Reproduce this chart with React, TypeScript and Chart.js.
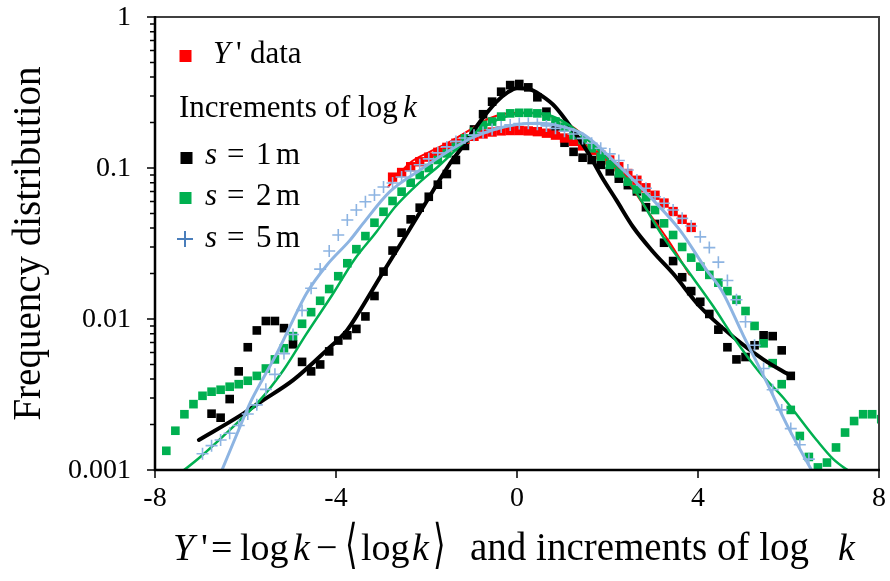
import React, { useEffect, useRef } from "react";
import { Chart, registerables } from "chart.js";

Chart.register(...registerables);

// Histogram bin centres shared by all point series
const X_BINS = [
  -7.75, -7.55, -7.35, -7.15, -6.95, -6.75, -6.55, -6.35, -6.15, -5.95,
  -5.75, -5.55, -5.35, -5.15, -4.95, -4.75, -4.55, -4.35, -4.15, -3.95,
  -3.75, -3.55, -3.35, -3.15, -2.95, -2.75, -2.55, -2.35, -2.15, -1.95,
  -1.75, -1.55, -1.35, -1.15, -0.95, -0.75, -0.55, -0.35, -0.15, 0.05,
  0.25, 0.45, 0.65, 0.85, 1.05, 1.25, 1.45, 1.65, 1.85, 2.05,
  2.25, 2.45, 2.65, 2.85, 3.05, 3.25, 3.45, 3.65, 3.85, 4.05,
  4.25, 4.45, 4.65, 4.85, 5.05, 5.25, 5.45, 5.65, 5.85, 6.05,
  6.25, 6.45, 6.65, 6.85, 7.05, 7.25, 7.45, 7.65, 7.85, 8.05,
];

// Y' data (red squares)
const RED_FIRST_BIN = 25;
const RED_Y = [
  0.087, 0.0934, 0.102, 0.11, 0.118, 0.127, 0.137, 0.146, 0.155, 0.162,
  0.168, 0.173, 0.176, 0.177, 0.177, 0.176, 0.174, 0.17, 0.165, 0.158,
  0.15, 0.14, 0.131, 0.122, 0.113, 0.102, 0.092, 0.083, 0.074, 0.066,
  0.0586, 0.0515, 0.0457, 0.0404,
];

// s = 1 m (black squares)
const BLACK_FIRST_BIN = 5;
const BLACK_Y = [
  0.00236, 0.00222, 0.00295, 0.0045, 0.0065, 0.0084, 0.0097, 0.0097, 0.0087, 0.0068,
  0.0052, 0.0045, 0.005, 0.0061, 0.0072, 0.0078, 0.0086, 0.0104, 0.0142, 0.0206,
  0.0284, 0.0373, 0.0457, 0.0546, 0.0645, 0.0775, 0.0912, 0.113, 0.14, 0.18,
  0.227, 0.275, 0.32, 0.354, 0.36, 0.342, 0.294, 0.236, 0.188, 0.147,
  0.128, 0.117, 0.113, 0.105, 0.095, 0.085, 0.077, 0.07, 0.055, 0.0426,
  0.032, 0.0242, 0.0189, 0.0153, 0.013, 0.0108, 0.0085, 0.0065, 0.0054, 0.0056,
  0.0067, 0.0078, 0.0077, 0.0062, 0.0042,
];

// s = 2 m (green squares)
const GREEN_FIRST_BIN = 0;
const GREEN_Y = [
  0.00134, 0.00182, 0.00234, 0.00273, 0.0031, 0.0033, 0.0034, 0.00356, 0.0037, 0.0039,
  0.0042, 0.0047, 0.0054, 0.0064, 0.0077, 0.0093, 0.0111, 0.0132, 0.0158, 0.0192,
  0.0234, 0.029, 0.0354, 0.0434, 0.0513, 0.0605, 0.0697, 0.0799, 0.0899, 0.1,
  0.113, 0.125, 0.138, 0.157, 0.174, 0.193, 0.203, 0.219, 0.23, 0.232,
  0.232, 0.23, 0.219, 0.203, 0.188, 0.165, 0.153, 0.135, 0.119, 0.105,
  0.0922, 0.0812, 0.0722, 0.064, 0.0527, 0.043, 0.036, 0.03, 0.0255, 0.0222,
  0.0196, 0.0174, 0.0153, 0.0134, 0.0113, 0.009, 0.0069, 0.0051, 0.0037, 0.0025,
  0.00168, 0.00122, 0.00104, 0.00112, 0.00141, 0.00177, 0.00211, 0.00234, 0.00234, 0.00217,
];

// s = 5 m (blue crosses)
const BLUE_FIRST_BIN = 4;
const BLUE_Y = [
  0.00128, 0.00145, 0.00158, 0.00175, 0.00197, 0.00235, 0.0027, 0.00342, 0.0043, 0.0059,
  0.0079, 0.0114, 0.016, 0.0214, 0.0282, 0.036, 0.0452, 0.0527, 0.0598, 0.0662,
  0.0749, 0.0796, 0.0872, 0.0955, 0.105, 0.115, 0.126, 0.138, 0.15, 0.158,
  0.165, 0.172, 0.18, 0.187, 0.193, 0.197, 0.198, 0.195, 0.19, 0.183,
  0.175, 0.168, 0.157, 0.146, 0.135, 0.124, 0.112, 0.097, 0.0833, 0.0734,
  0.0645, 0.0584, 0.0527, 0.0464, 0.0413, 0.035, 0.0297, 0.0238, 0.018, 0.0134,
  0.0096, 0.0067, 0.0047, 0.0034, 0.0025, 0.00188, 0.00147, 0.00118,
];

// Fitted curves
const RED_FIT_X = [-2.85, -2.37, -1.93, -1.49, -1.05, -0.63, -0.3, 0.1, 0.6, 1.0, 1.5, 2.0, 2.5, 2.87, 3.34, 3.81];
const RED_FIT_Y = [0.075, 0.108, 0.128, 0.149, 0.178, 0.212, 0.228, 0.232, 0.226, 0.205, 0.163, 0.116, 0.077, 0.0527, 0.0333, 0.0197];

const BLACK_FIT_X = [-7.03, -6.12, -5.68, -4.94, -4.21, -3.76, -3.5, -3.0, -2.5, -2.0, -1.5, -1.19, -0.97, -0.7, -0.45, -0.2, 0.0, 0.25, 0.55, 0.84, 1.21, 1.58, 1.87, 2.2, 2.57, 3.0, 3.45, 4.04, 4.78, 5.44, 6.05];
const BLACK_FIT_Y = [0.00158, 0.00229, 0.00281, 0.00395, 0.0062, 0.0084, 0.011, 0.0195, 0.034, 0.06, 0.105, 0.14, 0.175, 0.225, 0.275, 0.318, 0.338, 0.335, 0.3, 0.255, 0.183, 0.125, 0.0876, 0.061, 0.0405, 0.028, 0.02, 0.0121, 0.0076, 0.0054, 0.0042];

const GREEN_FIT_X = [-7.45, -7.0, -6.27, -5.68, -5.16, -4.65, -4.06, -3.6, -3.1, -2.7, -2.2, -1.7, -1.2, -0.7, -0.2, 0.2, 0.6, 1.0, 1.5, 2.0, 2.5, 3.23, 3.82, 4.34, 4.78, 5.37, 5.89, 6.62, 6.99, 7.4];
const GREEN_FIT_Y = [0.00095, 0.00122, 0.00194, 0.0029, 0.0046, 0.008, 0.0148, 0.0246, 0.038, 0.055, 0.078, 0.105, 0.145, 0.19, 0.222, 0.232, 0.228, 0.205, 0.16, 0.115, 0.079, 0.035, 0.02, 0.0121, 0.0076, 0.0044, 0.003, 0.00158, 0.00118, 0.00095];

const BLUE_FIT_X = [-6.55, -6.12, -5.9, -5.6, -5.31, -5.02, -4.65, -4.2, -3.69, -3.4, -2.81, -2.14, -1.5, -1.0, -0.5, 0.0, 0.5, 1.0, 1.5, 2.2, 2.94, 3.6, 4.19, 4.52, 5.0, 5.52, 6.0, 6.55];
const BLUE_FIT_Y = [0.00095, 0.00194, 0.00277, 0.0041, 0.0059, 0.0089, 0.0148, 0.0228, 0.0333, 0.043, 0.0697, 0.097, 0.13, 0.158, 0.18, 0.194, 0.198, 0.188, 0.165, 0.107, 0.0645, 0.0388, 0.0211, 0.0155, 0.0078, 0.0038, 0.0019, 0.00095];

// Axes
const X_MIN = -8;
const X_MAX = 8;
const Y_MIN = 0.001;
const Y_MAX = 1;
const X_TICKS = [-8, -4, 0, 4, 8];
const X_TICK_LABELS = ["-8", "-4", "0", "4", "8"];
const Y_TICKS = [0.001, 0.01, 0.1, 1];
const Y_TICK_LABELS = ["0.001", "0.01", "0.1", "1"];

const RED = "#ff0000";
const BLACK = "#000000";
const GREEN = "#00b050";
const LIGHT_BLUE = "#8db4e2";
const LEGEND_BLUE = "#4a7ebb";

const SERIF = '"Liberation Serif", "Times New Roman", "DejaVu Serif", serif';

function binPoints(first: number, ys: number[]) {
  return ys.map((y, i) => ({ x: X_BINS[first + i], y }));
}
function linePoints(xs: number[], ys: number[]) {
  return xs.map((x, i) => ({ x, y: ys[i] }));
}

function txt(ctx: CanvasRenderingContext2D, s: string, x: number, y: number, size: number, italic = false) {
  ctx.font = `${italic ? "italic " : ""}${size}px ${SERIF}`;
  ctx.fillText(s, x, y);
}

function tallBracket(ctx: CanvasRenderingContext2D, s: string, x: number, y: number, size: number) {
  ctx.save();
  ctx.translate(x, y);
  ctx.scale(0.85, 1.4);
  ctx.font = `${size}px "DejaVu Serif", ${SERIF}`;
  ctx.fillText(s, 0, 0);
  ctx.restore();
}

const decorPlugin = {
  id: "decor",
  afterDraw(chart: any) {
    const ctx: CanvasRenderingContext2D = chart.ctx;
    const { left, right, top, bottom } = chart.chartArea;
    const xs = chart.scales.x;
    const ys = chart.scales.y;
    ctx.save();

    // frame (top/right)
    ctx.strokeStyle = "#404040";
    ctx.lineWidth = 2;
    ctx.beginPath();
    ctx.moveTo(left, top);
    ctx.lineTo(right, top);
    ctx.lineTo(right, bottom);
    ctx.stroke();

    // axes
    ctx.strokeStyle = "#000";
    ctx.lineWidth = 2.5;
    ctx.beginPath();
    ctx.moveTo(left, top - 1);
    ctx.lineTo(left, bottom);
    ctx.lineTo(right + 1, bottom);
    ctx.stroke();

    // y ticks (major + minor)
    ctx.lineWidth = 1.5;
    ctx.beginPath();
    for (let d = 0; d < Y_TICKS.length; d++) {
      const v = Y_TICKS[d];
      const py = ys.getPixelForValue(v);
      ctx.moveTo(left - 8, py);
      ctx.lineTo(left, py);
      if (d < Y_TICKS.length - 1) {
        for (let m = 2; m <= 9; m++) {
          const pm = ys.getPixelForValue(v * m);
          ctx.moveTo(left - 5, pm);
          ctx.lineTo(left, pm);
        }
      }
    }
    // x ticks
    for (const t of X_TICKS) {
      const px = xs.getPixelForValue(t);
      ctx.moveTo(px, bottom);
      ctx.lineTo(px, bottom + 8);
    }
    ctx.stroke();

    // tick labels
    ctx.fillStyle = "#000";
    ctx.textAlign = "right";
    ctx.textBaseline = "middle";
    Y_TICKS.forEach((v, i) => {
      txt(ctx, Y_TICK_LABELS[i], 131, ys.getPixelForValue(v) + 1, 28);
    });
    ctx.textAlign = "center";
    ctx.textBaseline = "alphabetic";
    X_TICKS.forEach((v, i) => {
      txt(ctx, X_TICK_LABELS[i], xs.getPixelForValue(v), 506, 28);
    });

    // y title
    ctx.save();
    ctx.translate(40, (top + bottom) / 2);
    ctx.rotate(-Math.PI / 2);
    ctx.textAlign = "center";
    txt(ctx, "Frequency distribution", 0, 0, 39);
    ctx.restore();

    // x title
    ctx.textAlign = "left";
    const by = 560;
    const fs = 38;
    txt(ctx, "Y", 173, by, fs, true);
    txt(ctx, "'", 201, by, fs);
    txt(ctx, "=", 211, by, fs);
    txt(ctx, "log", 240, by, fs);
    txt(ctx, "k", 293, by, fs, true);
    txt(ctx, "\u2212", 316, by, fs);
    tallBracket(ctx, "\u27e8", 345, by + 2, fs);
    txt(ctx, "log", 361, by, fs);
    txt(ctx, "k", 412, by, fs, true);
    tallBracket(ctx, "\u27e9", 433, by + 2, fs);
    txt(ctx, "and increments of log", 470, by, 39);
    txt(ctx, "k", 838, by, fs, true);

    // legend
    const ls = 31;
    ctx.fillStyle = RED;
    ctx.fillRect(179.5, 50, 12, 12);
    ctx.fillStyle = "#000";
    txt(ctx, "Y", 213, 63, ls, true);
    txt(ctx, "'", 236, 63, ls);
    txt(ctx, "data", 250, 63, ls);

    txt(ctx, "Increments of log", 179, 117, ls);
    txt(ctx, "k", 403, 117, ls, true);

    const rows = [
      { y: 164, label: "1", mark: "black" },
      { y: 205, label: "2", mark: "green" },
      { y: 247, label: "5", mark: "blue" },
    ];
    for (const r of rows) {
      if (r.mark === "black") {
        ctx.fillStyle = BLACK;
        ctx.fillRect(180.5, 152, 12, 12);
      } else if (r.mark === "green") {
        ctx.fillStyle = GREEN;
        ctx.fillRect(179.5, 192, 12, 12);
      } else {
        ctx.strokeStyle = LEGEND_BLUE;
        ctx.lineWidth = 2;
        ctx.beginPath();
        ctx.moveTo(177, 239);
        ctx.lineTo(193, 239);
        ctx.moveTo(185, 231);
        ctx.lineTo(185, 247);
        ctx.stroke();
      }
      ctx.fillStyle = "#000";
      txt(ctx, "s", 205, r.y, ls, true);
      txt(ctx, "=", 227, r.y, ls);
      txt(ctx, r.label, 256, r.y, ls);
      txt(ctx, "m", 276, r.y, ls);
    }

    ctx.restore();
  },
};

export default function App() {
  const ref = useRef<HTMLCanvasElement | null>(null);

  useEffect(() => {
    if (!ref.current) return;
    const squares = (color: string, r: number) => ({
      showLine: false,
      pointStyle: "rect",
      pointRadius: r,
      pointHoverRadius: r,
      pointBackgroundColor: color,
      pointBorderWidth: 0,
      pointBorderColor: color,
    });
    const curve = (color: string, w: number) => ({
      showLine: true,
      pointRadius: 0,
      pointHoverRadius: 0,
      borderColor: color,
      borderWidth: w,
      cubicInterpolationMode: "monotone",
      clip: 0,
      fill: false,
      borderCapStyle: "round",
      borderJoinStyle: "round",
    });

    const chart = new Chart(ref.current, {
      type: "scatter",
      data: {
        datasets: [
          { label: "s = 1 m", data: binPoints(BLACK_FIRST_BIN, BLACK_Y), order: 9, ...squares(BLACK, 6.1) },
          { label: "Y' data", data: binPoints(RED_FIRST_BIN, RED_Y), order: 8, ...squares(RED, 6.6) },
          { label: "Y' fit", data: linePoints(RED_FIT_X, RED_FIT_Y), order: 7, ...curve(RED, 2) },
          { label: "s = 2 m", data: binPoints(GREEN_FIRST_BIN, GREEN_Y), order: 6, ...squares(GREEN, 6.1) },
          { label: "s = 1 m fit", data: linePoints(BLACK_FIT_X, BLACK_FIT_Y), order: 5, ...curve(BLACK, 4) },
          { label: "s = 2 m fit", data: linePoints(GREEN_FIT_X, GREEN_FIT_Y), order: 3, ...curve(GREEN, 2.5) },
          {
            label: "s = 5 m",
            data: binPoints(BLUE_FIRST_BIN, BLUE_Y),
            order: 2,
            showLine: false,
            pointStyle: "cross",
            pointRadius: 6,
            pointHoverRadius: 6,
            pointBorderColor: LIGHT_BLUE,
            pointBorderWidth: 1.6,
          },
          { label: "s = 5 m fit", data: linePoints(BLUE_FIT_X, BLUE_FIT_Y), order: 1, ...curve(LIGHT_BLUE, 3) },
        ] as any,
      },
      options: {
        animation: false,
        responsive: false,
        devicePixelRatio: 1,
        events: [],
        layout: { padding: { left: 155, right: 11, top: 17, bottom: 111 } },
        plugins: { legend: { display: false }, tooltip: { enabled: false } },
        scales: {
          x: { type: "linear", min: X_MIN, max: X_MAX, display: false },
          y: { type: "logarithmic", min: Y_MIN, max: Y_MAX, display: false },
        },
      },
      plugins: [decorPlugin],
    });
    return () => chart.destroy();
  }, []);

  return (
    <div style={{ position: "fixed", left: 0, top: 0, width: 890, height: 581, background: "#fff" }}>
      <canvas ref={ref} width={890} height={581} style={{ display: "block" }} />
    </div>
  );
}
